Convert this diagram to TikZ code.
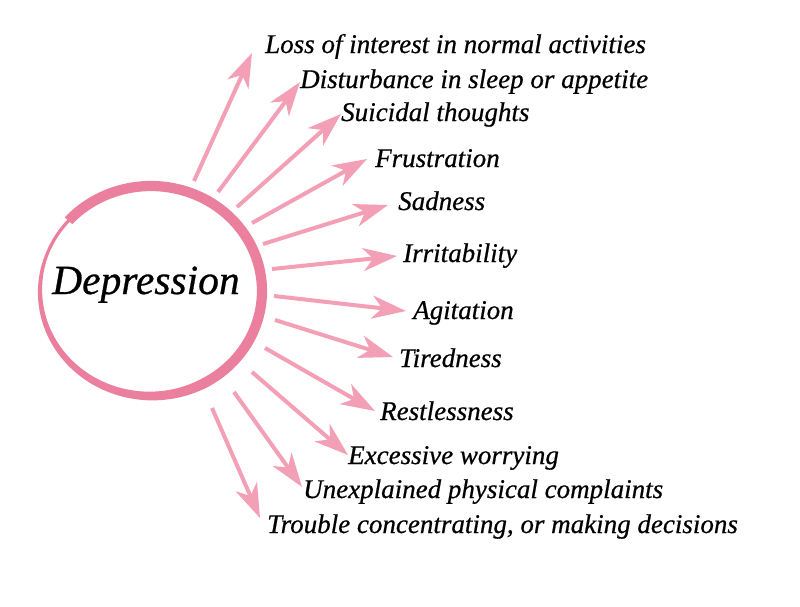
\documentclass[tikz,border=0pt]{standalone}
\usepackage{fontspec}
\setmainfont{Liberation Serif}
\newfontfamily\lblfont[FakeBold=0.6]{Liberation Serif}
\usetikzlibrary{arrows.meta}
\definecolor{ringpink}{RGB}{234,128,158}
\definecolor{arrowpink}{RGB}{243,160,182}
\tikzset{
  label/.style={anchor=base west, inner sep=0pt, font=\lblfont\fontsize{27}{27}\selectfont\itshape},
  spoke/.style={draw=arrowpink, line width=4pt, -{Stealth[length=34pt,width=23pt,inset=10pt]}},
}
\begin{document}
\begin{tikzpicture}[x=1pt,y=-1pt,
  declare function={wd(\a)=3.2+7*min(1,max(0,(\a+200)/140));}]
\useasboundingbox (0,0) rectangle (800,606);
\fill[white] (0,0) rectangle (800,606);
% brush ring
\fill[ringpink]
  plot[domain=138:-224, samples=160, smooth] ({151+(111+0.5*wd(\x))*cos(\x)}, {291-(105+0.5*wd(\x))*sin(\x)})
  -- plot[domain=-224:138, samples=160, smooth] ({151+(111-0.5*wd(\x))*cos(\x)}, {291-(105-0.5*wd(\x))*sin(\x)})
  -- cycle;
\node[anchor=base west, inner sep=0pt, font=\lblfont\fontsize{41.5}{42}\selectfont\itshape] (dep) at (52,294) {Depression};
% labels
\node[label] (t1) at (265,53) {Loss of interest in normal activities};
\node[label] (t2) at (300,88) {Disturbance in sleep or appetite};
\node[label] (t3) at (341,121) {Suicidal thoughts};
\node[label] (t4) at (375,167) {Frustration};
\node[label] (t5) at (398,210) {Sadness};
\node[label] (t6) at (403,262) {Irritability};
\node[label] (t7) at (413,319) {Agitation};
\node[label] (t8) at (399,367) {Tiredness};
\node[label] (t9) at (380,420) {Restlessness};
\node[label] (t10) at (348,464) {Excessive worrying};
\node[label] (t11) at (303,498) {Unexplained physical complaints};
\node[label] (t12) at (267,533) {Trouble concentrating, or making decisions};
% arrow coordinates
\coordinate (s1) at (194,181); \coordinate (e1) at (252,53);
\coordinate (s2) at (218,192); \coordinate (e2) at (300,82);
\coordinate (s3) at (237,207); \coordinate (e3) at (341,114);
\coordinate (s4) at (252,223); \coordinate (e4) at (367,159);
\coordinate (s5) at (263,244); \coordinate (e5) at (388,205);
\coordinate (s6) at (272,269); \coordinate (e6) at (397,256);
\coordinate (s7) at (274,296); \coordinate (e7) at (406,311);
\coordinate (s8) at (275,320); \coordinate (e8) at (393,357);
\coordinate (s9) at (265,348); \coordinate (e9) at (375,411);
\coordinate (s10) at (252,372); \coordinate (e10) at (348,455);
\coordinate (s11) at (234,392); \coordinate (e11) at (302,487);
\coordinate (s12) at (212,408); \coordinate (e12) at (260,518);
\foreach \i in {1,...,12} {\draw[spoke] (s\i) -- (e\i);}
\end{tikzpicture}
\end{document}
